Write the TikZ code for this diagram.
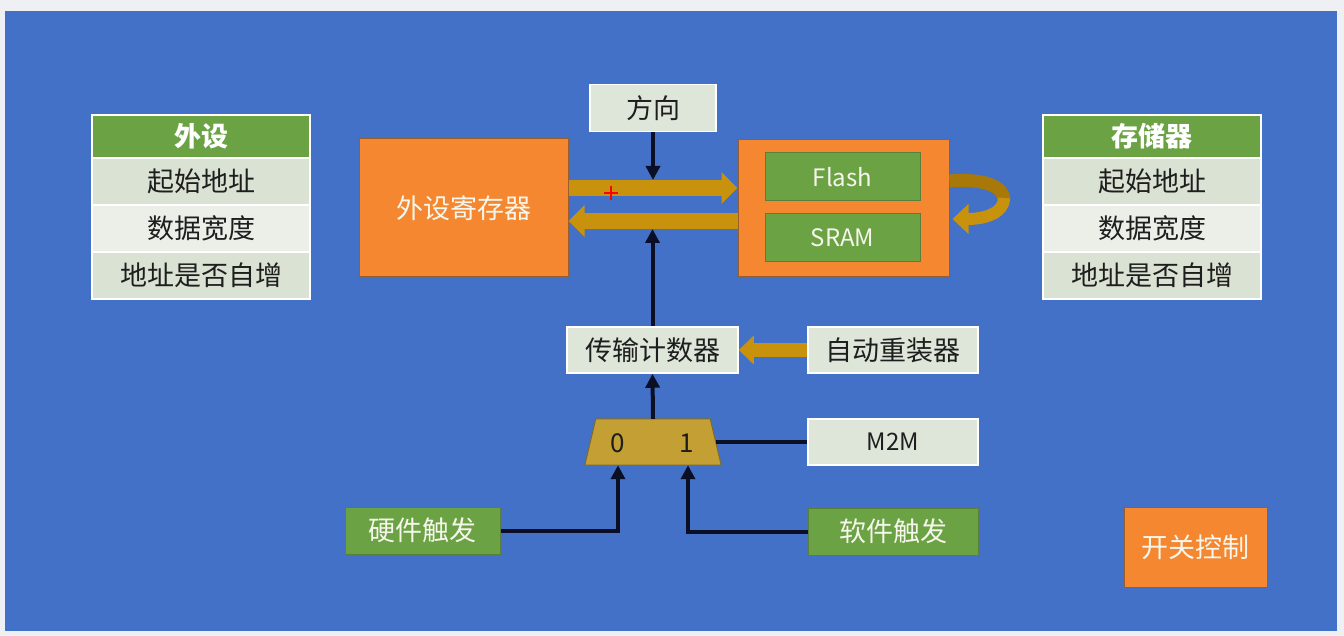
\documentclass[tikz,border=0pt]{standalone}
\usepackage{fontspec}
\setmainfont{Noto Sans CJK SC}
\usetikzlibrary{arrows.meta}
\definecolor{bg}{HTML}{EEF0F3}
\definecolor{blu}{HTML}{4371C7}
\definecolor{tgreen}{HTML}{6AA244}
\definecolor{grn}{HTML}{6AA244}
\definecolor{gbrd}{HTML}{5A7F3A}
\definecolor{rowdark}{HTML}{D9E2D3}
\definecolor{rowlight}{HTML}{EBEFE8}
\definecolor{lbg}{HTML}{DDE6D8}
\definecolor{orng}{HTML}{F4872F}
\definecolor{obrd}{HTML}{9A5E2C}
\definecolor{txt}{HTML}{1E1E1E}
\definecolor{wtxt}{HTML}{F6F6EC}
\definecolor{gold}{HTML}{C8920C}
\definecolor{dgold}{HTML}{A87808}
\definecolor{muxc}{HTML}{C4A034}
\definecolor{muxb}{HTML}{7F6A2A}
\definecolor{wirec}{HTML}{0A0F26}
\begin{document}
\begin{tikzpicture}[x=1pt,y=-1pt,
  sz/.style 2 args={minimum width=#1pt, minimum height=#2pt},
  base/.style={rectangle, inner sep=0pt, font=\fontsize{27}{30}\selectfont},
  hdr/.style={base, fill=tgreen, draw=white, line width=2pt, text=white, font=\fontsize{27}{30}\selectfont\bfseries},
  rowA/.style={base, fill=rowdark, draw=white, line width=2pt, text=txt},
  rowB/.style={base, fill=rowlight, draw=white, line width=2pt, text=txt},
  lbox/.style={base, fill=lbg, draw=white, line width=1.5pt, text=txt},
  obox/.style={base, fill=orng, draw=obrd, line width=1pt, text=wtxt},
  gbox/.style={base, fill=grn, draw=gbrd, line width=1pt, text=wtxt},
  wire/.style={draw=wirec, line width=4pt},
  warrow/.style={wire, -{Triangle[width=14pt,length=14pt]}},
  garrow/.style={draw=gold, line width=16pt, -{Triangle[width=31pt,length=16pt]}},
]
\useasboundingbox (0,0) rectangle (1344,636);
\fill[bg] (0,0) rectangle (1344,636);
\fill[blu] (5,11) rectangle (1337,631);

% left table
\node[hdr, sz={218}{43}] (lh) at (201,136.5) {外设};
\node[rowA, sz={218}{47}] (l1) at (201,181.5) {起始地址};
\node[rowB, sz={218}{47}] (l2) at (201,228.5) {数据宽度};
\node[rowA, sz={218}{47}] (l3) at (201,275.5) {地址是否自增};
% right table
\node[hdr, sz={218}{43}] (rh) at (1152,136.5) {存储器};
\node[rowA, sz={218}{47}] (r1) at (1152,181.5) {起始地址};
\node[rowB, sz={218}{47}] (r2) at (1152,228.5) {数据宽度};
\node[rowA, sz={218}{47}] (r3) at (1152,275.5) {地址是否自增};

% center blocks
\node[obox, sz={209}{138}] (per) at (463.5,208) {外设寄存器};
\node[lbox, sz={126}{47}] (dir) at (653,108) {方向};
\node[obox, sz={211}{137}] (mem) at (843.5,208.5) {};
\node[gbox, sz={155}{48}, font=\fontsize{24}{28}\selectfont] (flash) at (842.5,177) {Flash};
\node[gbox, sz={155}{48}, font=\fontsize{24}{28}\selectfont] (sram) at (842.5,238) {SRAM};
\node[lbox, sz={171}{46}] (cnt) at (652.5,350) {传输计数器};
\node[lbox, sz={170}{46}] (rel) at (893,350) {自动重装器};
\node[lbox, sz={170}{46}, font=\fontsize{24}{28}\selectfont] (m2m) at (893,442) {M2M};
\node[gbox, sz={155}{47}] (hw) at (422.5,530.5) {硬件触发};
\node[gbox, sz={170}{47}] (sw) at (893,531.5) {软件触发};
\node[obox, sz={143}{80}] (sc) at (1195.5,547) {开关控制};

% mux
\node[inner sep=0pt, sz={136}{46}] (mux) at (653,442) {};
\filldraw[fill=muxc, draw=muxb, line width=1pt] ([xshift=11pt]mux.north west) -- ([xshift=-11pt]mux.north east) -- (mux.south east) -- (mux.south west) -- cycle;
\node[font=\fontsize{26}{28}\selectfont, text=txt] (m0) at (618,443) {0};
\node[font=\fontsize{26}{28}\selectfont, text=txt] (m1) at (687,443) {1};

% gold arrows
\draw[garrow] (per.east |- 0,188) -- (mem.west |- 0,188);
\draw[garrow] (mem.west |- 0,221) -- (per.east |- 0,221);
\draw[draw=gold, line width=14pt, -{Triangle[width=28pt,length=15pt]}] (rel.west) -- (cnt.east);

% loop arrow
\coordinate (lpa) at (1004,200);
\draw[draw=dgold, line width=13pt] (mem.east |- 0,181) .. controls (985,178) and (1004,187) .. (lpa);
\draw[draw=gold, line width=12pt, -{Triangle[width=29pt,length=16pt]}] (1004,198) .. controls (1004,213) and (985,219) .. ([xshift=3pt]mem.east |- 0,219);

% black arrows
\draw[warrow] (dir.south) -- (dir.south |- 0,180);
\draw[warrow] (cnt.north) -- (cnt.north |- 0,229);
\draw[warrow] (mux.north) -- (cnt.south);
\draw[wire] ([xshift=-5.5pt]mux.east) -- (m2m.west);
\draw[warrow] (hw.east) -| ([xshift=-35pt]mux.south);
\draw[warrow] (sw.west) -| ([xshift=35pt]mux.south);

% red cursor mark
\draw[red, line width=2pt] (604,193) -- (618,193) (611,186) -- (611,200);
\end{tikzpicture}
\end{document}
